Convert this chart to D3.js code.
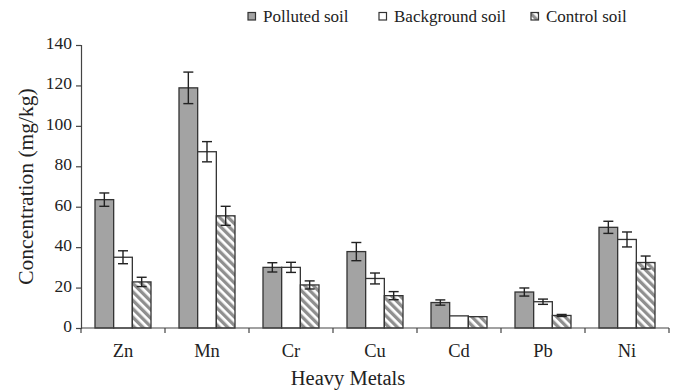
<!DOCTYPE html>
<html>
<head>
<meta charset="utf-8">
<script src="https://cdn.jsdelivr.net/npm/d3@7"></script>
<style>
  body { margin: 0; background: #fff; }
  svg text { font-family: "Liberation Serif", Tinos, "Times New Roman", Times, "DejaVu Serif", serif; fill: #222; }
</style>
</head>
<body>
<div id="container"></div>
<script>
let width = 673;
let height = 390;
let serifFont = '"Liberation Serif", Tinos, "Times New Roman", Times, "DejaVu Serif", serif';

// data
let metals = ["Zn", "Mn", "Cr", "Cu", "Cd", "Pb", "Ni"];
let series = ["Polluted soil", "Background soil", "Control soil"];
let polluted   = [63.5, 118.8, 30, 37.8, 12.6, 17.8, 49.8];
let pollutedErr = [3.3, 7.8, 2.3, 4.5, 1.3, 2, 3];
let background = [35, 87.2, 30, 24.5, 6, 13, 43.8];
let backgroundErr = [3.2, 5, 2.5, 2.7, 0, 1.3, 3.7];
let control    = [22.8, 55.5, 21.3, 16, 5.6, 6.2, 32.4];
let controlErr = [2.3, 4.7, 2, 2, 0, 0.5, 3.2];
let yTicks = [0, 20, 40, 60, 80, 100, 120, 140];

let values = [polluted, background, control];
let errs = [pollutedErr, backgroundErr, controlErr];

let margin = {left: 81, right: 4, top: 45, bottom: 62};

let svg = d3.select("#container")
  .append("svg")
  .attr("width", width)
  .attr("height", height)
  .style("font-family", serifFont);

// hatch for control soil
let defs = svg.append("defs");
let pat = defs.append("pattern")
  .attr("id", "hatch")
  .attr("patternUnits", "userSpaceOnUse")
  .attr("width", 6)
  .attr("height", 6)
  .attr("patternTransform", "rotate(-45)");
pat.append("rect").attr("width", 6).attr("height", 6).attr("fill", "#fff");
pat.append("rect").attr("width", 3.3).attr("height", 6).attr("fill", "#8f8f8f");

let fills = ["#a3a3a3", "#ffffff", "url(#hatch)"];

let x = d3.scaleBand()
  .domain(metals)
  .range([margin.left, width - margin.right])
  .padding(0);

let bw = x.bandwidth();
let xs = d3.scaleBand()
  .domain(series)
  .range([bw / 6, bw * 5 / 6])
  .padding(0);

let y = d3.scaleLinear()
  .domain([0, 140])
  .range([height - margin.bottom, margin.top]);

let table = [];
metals.forEach(function (m, i) {
  series.forEach(function (s, j) {
    table.push({metal: m, s: s, j: j, v: values[j][i], e: errs[j][i]});
  });
});

// bars
svg.append("g").selectAll("rect")
  .data(table)
  .enter().append("rect")
  .attr("x", d => x(d.metal) + xs(d.s))
  .attr("y", d => y(d.v))
  .attr("width", xs.bandwidth())
  .attr("height", d => y(0) - y(d.v))
  .attr("fill", d => fills[d.j])
  .attr("stroke", "#333")
  .attr("stroke-width", 1.3);

// error bars
let cx = d => x(d.metal) + xs(d.s) + xs.bandwidth() / 2;
let eb = svg.append("g").selectAll("g")
  .data(table.filter(d => d.e > 0))
  .enter().append("g")
  .attr("stroke", "#222")
  .attr("stroke-width", 1.4);
eb.append("line")
  .attr("x1", cx).attr("x2", cx)
  .attr("y1", d => y(d.v + d.e))
  .attr("y2", d => y(d.v - d.e));
eb.append("line")
  .attr("x1", d => cx(d) - 5).attr("x2", d => cx(d) + 5)
  .attr("y1", d => y(d.v + d.e))
  .attr("y2", d => y(d.v + d.e));
eb.append("line")
  .attr("x1", d => cx(d) - 5).attr("x2", d => cx(d) + 5)
  .attr("y1", d => y(d.v - d.e))
  .attr("y2", d => y(d.v - d.e));

// y axis
let yAxis = svg.append("g")
  .attr("transform", `translate(${margin.left},0)`)
  .call(d3.axisLeft(y).tickValues(yTicks).tickSize(5).tickPadding(4));
yAxis.attr("font-family", null);
yAxis.select(".domain").attr("stroke", "#444").attr("stroke-width", 1.2);
yAxis.selectAll(".tick line").attr("stroke", "#444").attr("stroke-width", 1.2);
yAxis.selectAll("text").style("font-size", "17.5px").attr("fill", "#222").attr("dy", "0.2em");

// x axis line with boundary ticks
let xg = svg.append("g");
xg.append("line")
  .attr("x1", margin.left).attr("x2", width - margin.right)
  .attr("y1", y(0)).attr("y2", y(0))
  .attr("stroke", "#444").attr("stroke-width", 1.2);
let bounds = metals.map(m => x(m)).concat([x(metals[metals.length - 1]) + bw]);
xg.selectAll("line.t")
  .data(bounds)
  .enter().append("line")
  .attr("class", "t")
  .attr("x1", d => d).attr("x2", d => d)
  .attr("y1", y(0)).attr("y2", y(0) + 5)
  .attr("stroke", "#444").attr("stroke-width", 1.2);
xg.selectAll("text")
  .data(metals)
  .enter().append("text")
  .attr("x", d => x(d) + bw / 2)
  .attr("y", 357)
  .attr("text-anchor", "middle")
  .style("font-size", "18.5px")
  .text(d => d);

// titles
svg.append("text")
  .attr("x", (margin.left + width - margin.right) / 2 - 27)
  .attr("y", 385)
  .attr("text-anchor", "middle")
  .style("font-size", "20.5px")
  .text("Heavy Metals");

svg.append("text")
  .attr("transform", `translate(33,${(y(0) + y(140)) / 2}) rotate(-90)`)
  .attr("text-anchor", "middle")
  .style("font-size", "21.5px")
  .text("Concentration (mg/kg)");

// legend
let legendX = [248, 379, 531];
let lg = svg.append("g").selectAll("g")
  .data(series)
  .enter().append("g")
  .attr("transform", (d, i) => `translate(${legendX[i]},16)`);
lg.append("rect")
  .attr("x", 0).attr("y", -3.5)
  .attr("width", 7.5).attr("height", 7.5)
  .attr("fill", (d, i) => fills[i])
  .attr("stroke", "#333")
  .attr("stroke-width", 1.2);
lg.append("text")
  .attr("x", 15)
  .attr("y", 5.5)
  .style("font-size", "17px")
  .text(d => d);
</script>
</body>
</html>
